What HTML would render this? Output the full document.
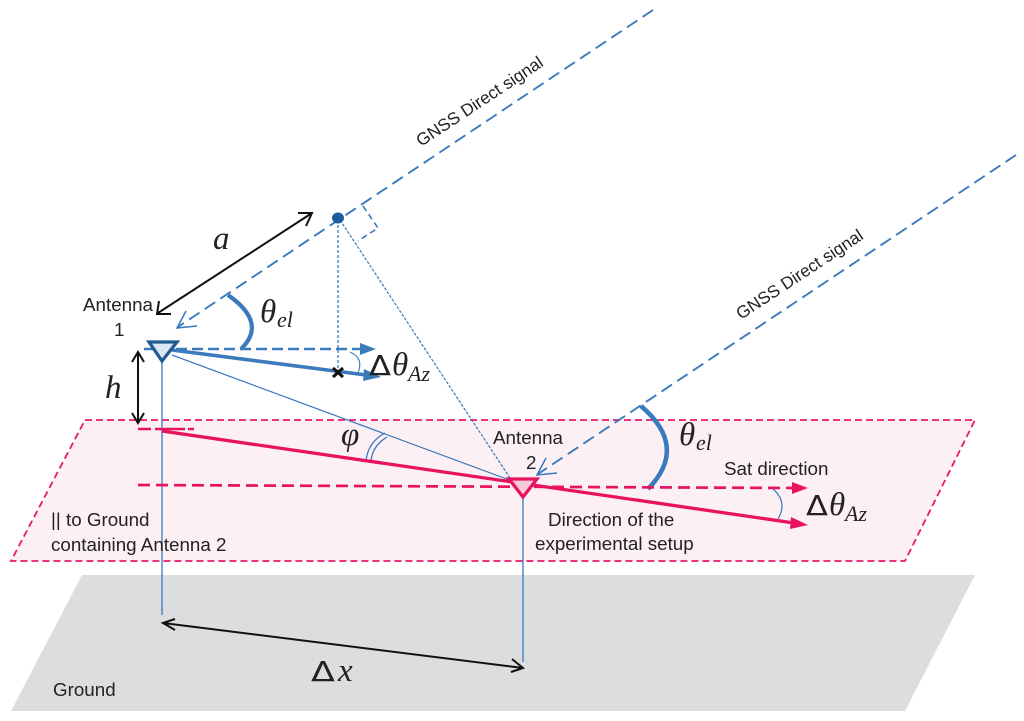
<!DOCTYPE html>
<html><head><meta charset="utf-8"><style>
html,body{margin:0;padding:0;background:#fff}
svg{display:block}
text{font-family:"Liberation Sans",sans-serif;font-size:18.8px;fill:#222}
.g{font-size:17.2px}
.m{font-family:"Liberation Serif",serif;font-style:italic;font-size:33px;fill:#222}
.s{font-family:"Liberation Serif",serif;font-style:italic;font-size:22px;fill:#222}
.u{font-family:"DejaVu Sans",sans-serif;font-style:normal;font-size:28px;fill:#222}
</style></head><body>
<svg width="1024" height="721" viewBox="0 0 1024 721" xmlns="http://www.w3.org/2000/svg">
<polygon points="82,575 975,575 905,711 11,711" fill="#dcddde"/>
<polygon points="85,420 975,420 905,561 11,561" fill="#fcf0f5" stroke="#e8186c" stroke-width="1.8" stroke-dasharray="7 4"/>

<g fill="none" stroke="#3a7abd">
<line x1="653" y1="10" x2="178" y2="327" stroke-width="1.9" stroke-dasharray="12.5 6.3"/>
<polyline points="186,311 177,328 197,326" stroke-width="1.5"/>
<line x1="1016" y1="155" x2="538" y2="474" stroke-width="1.9" stroke-dasharray="12.5 6.3"/>
<polyline points="546,458 537,475 557,473" stroke-width="1.5"/>
<polyline points="363,206 378,228 358,241" stroke-width="1.6" stroke-dasharray="6 4"/>
<line x1="338" y1="220" x2="338" y2="368" stroke-width="1.3" stroke-dasharray="3 2"/>
<line x1="340" y1="220" x2="510" y2="478" stroke-width="1.2" stroke-dasharray="3 1.5"/>
<line x1="172" y1="355" x2="512" y2="481" stroke-width="1.2"/>
<line x1="162" y1="362" x2="162" y2="615" stroke-width="1.3"/>
<line x1="523" y1="498" x2="523" y2="662" stroke-width="1.3"/>
<line x1="144" y1="349" x2="362" y2="349" stroke-width="2.6" stroke-dasharray="11 5"/>
<line x1="172" y1="350" x2="366" y2="375" stroke-width="3.6"/>
<path d="M228,295 Q268,323 241,349" stroke-width="4.2"/>
<path d="M641,406 Q689,447 648,489" stroke-width="4.6"/>
<path d="M350,352 Q364,358 358,373" stroke-width="1.1"/>
<path d="M773,489 Q788,502 778,519" stroke-width="1.2"/>
<path d="M385,433 Q368,442 366,461" stroke-width="1.3"/>
<path d="M387,437 Q372,446 371,462" stroke-width="1.3"/>
</g>
<polygon points="360,343 376,349 360,355" fill="#3a7abd"/>
<polygon points="364,369 381,377 363,381" fill="#3a7abd"/>
<ellipse cx="338" cy="218" rx="6" ry="5.5" fill="#1f5c9c"/>

<g fill="none" stroke="#e8125f">
<line x1="138" y1="429" x2="197" y2="429" stroke-width="2.4" stroke-dasharray="13 4 30 3 6 3"/>
<line x1="162" y1="431" x2="794" y2="523" stroke-width="3.3"/>
<line x1="138" y1="485" x2="795" y2="488" stroke-width="2.7" stroke-dasharray="12 6"/>
</g>
<polygon points="792,482 808,488 792,494" fill="#e8125f"/>
<polygon points="791,517 808,525 790,529" fill="#e8125f"/>

<polygon points="149,342 177,342 162,361" fill="#dbe6f3" stroke="#1f5a92" stroke-width="3.2"/>
<polygon points="509,479 537,479 523,497" fill="#f9c8da" stroke="#e8125f" stroke-width="3.2"/>

<g stroke="#111" fill="none" stroke-width="2">
<line x1="158" y1="313" x2="312" y2="213"/>
<polyline points="298,213 312,213 306,226"/>
<polyline points="159,301 157,314 171,314"/>
<line x1="138" y1="353" x2="138" y2="422"/>
<polyline points="132,362 138,352 144,362"/>
<polyline points="132,413 138,423 144,413"/>
<line x1="163" y1="623" x2="523" y2="668"/>
<polyline points="175,619 163,623 175,630"/>
<polyline points="512,659 523,668 511,672"/>
<line x1="333" y1="368" x2="343" y2="377" stroke-width="3"/>
<line x1="343" y1="368" x2="333" y2="377" stroke-width="3"/>
</g>

<text transform="translate(421,147) rotate(-33.5)" class="g">GNSS Direct signal</text>
<text transform="translate(741,320) rotate(-33.5)" class="g">GNSS Direct signal</text>
<text x="83" y="311">Antenna</text>
<text x="114" y="336">1</text>
<text x="493" y="444">Antenna</text>
<text x="526" y="469">2</text>
<text x="724" y="475">Sat direction</text>
<text x="548" y="526">Direction of the</text>
<text x="535" y="550">experimental setup</text>
<text x="51" y="526">|| to Ground</text>
<text x="51" y="551">containing Antenna 2</text>
<text x="53" y="696">Ground</text>

<text x="213" y="249" class="m">a</text>
<text x="105" y="398" class="m">h</text>
<text x="260" y="322" class="m">θ</text><text x="277" y="327" class="s">el</text>
<text x="679" y="445" class="m">θ</text><text x="696" y="450" class="s">el</text>
<text transform="translate(369,375) scale(1.15,1)" class="u">Δ</text><text x="392" y="375" class="m">θ</text><text x="408" y="381" class="s">Az</text>
<text transform="translate(806,515) scale(1.15,1)" class="u">Δ</text><text x="829" y="515" class="m">θ</text><text x="845" y="521" class="s">Az</text>
<text x="341" y="445" class="m">φ</text>
<text transform="translate(311,681) scale(1.25,1)" class="u">Δ</text><text x="338" y="681" class="m">x</text>
</svg>
</body></html>
